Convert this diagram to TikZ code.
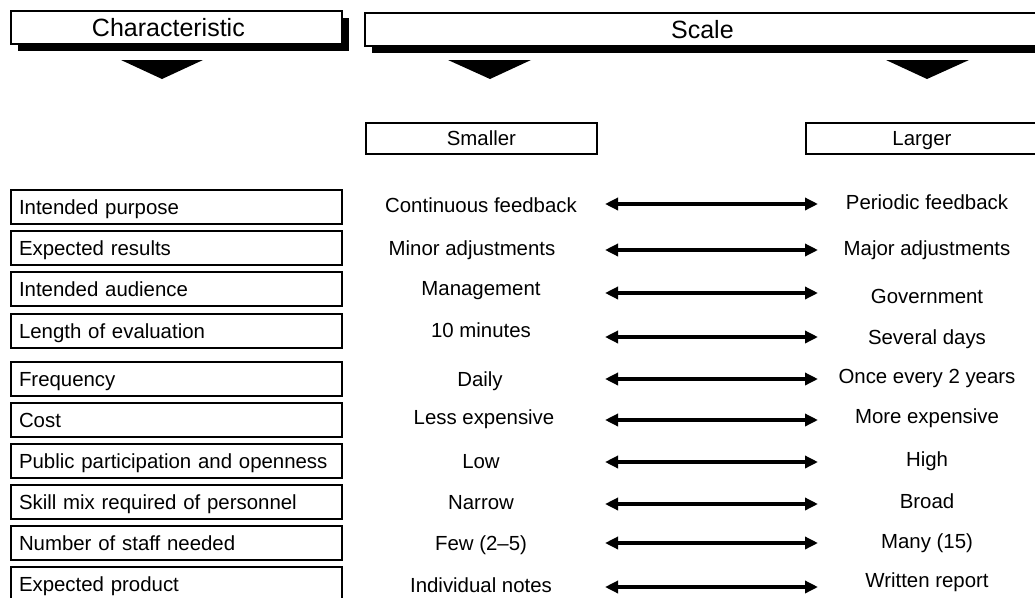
\documentclass[tikz,border=0pt]{standalone}
\usepackage{fontspec}
\setmainfont{Liberation Sans}
\usetikzlibrary{arrows.meta,shadows}
\begin{document}
\begin{tikzpicture}[x=1pt,y=-1pt,
  hdr/.style={draw=black, line width=1.8pt, fill=white, inner sep=0pt,
    minimum height=33pt, anchor=north west,
    font=\fontsize{25}{29}\selectfont, text height=17.9pt, text depth=0pt,
    general shadow={fill=black, shadow xshift=7pt, shadow yshift=-7pt}},
  colbox/.style={draw=black, line width=1.8pt, fill=white, inner sep=0pt,
    minimum height=31pt, anchor=north west,
    font=\fontsize{20.4}{24}\selectfont, text height=14.7pt, text depth=0pt},
  charbox/.style={draw=black, line width=2pt, fill=white, inner ysep=0pt,
    inner xsep=8pt, text width=315pt, align=left, minimum height=34pt,
    anchor=north west,
    font=\fontsize{20.4}{24}\selectfont, text height=14.7pt, text depth=0pt},
  val/.style={inner sep=0pt, font=\fontsize{20.4}{24}\selectfont,
    text height=14.7pt, text depth=0pt},
  biarrow/.style={line width=3.4pt,
    {Triangle[length=13pt,width=12pt]}-{Triangle[length=13pt,width=12pt]}},
  pointer/.style={fill=black}
]
\useasboundingbox (0,0) rectangle (1035,597);
\clip (0,0) rectangle (1035,597);

% column headings
\node[hdr, minimum width=331pt] (char) at (10,10) {\hspace*{-16pt}Characteristic};
\node[hdr, minimum width=690pt] (scale) at (364,12) {\hspace*{-15pt}Scale};

% downward pointers under the headings
\fill[pointer] (121,60) -- (203,60) -- (162,79) -- cycle;
\fill[pointer] (448,60) -- (531,60) -- (490,79) -- cycle;
\fill[pointer] (886,60) -- (969,60) -- (927,79) -- cycle;

% ends of the scale
\node[colbox, minimum width=231pt] (smaller) at (365,122) {Smaller};
\node[colbox, minimum width=250pt] (larger) at (805,122)
  {\hspace*{-18pt}Larger};

% one row per characteristic
\foreach \top/\ay/\name/\sx/\sy/\small/\ly/\large [count=\i] in {
  189/204/{Intended purpose}/481/205/{Continuous feedback}/202/{Periodic feedback},
  230/250/{Expected results}/472/248/{Minor adjustments}/248/{Major adjustments},
  271/293/{Intended audience}/481/288/{Management}/296/{Government},
  313/337/{Length of evaluation}/481/330/{10 minutes}/337/{Several days},
  361/379/{Frequency}/480/379/{Daily}/376/{Once every 2 years},
  402/420/{Cost}/484/417/{Less expensive}/416/{More expensive},
  443/462/{Public participation and openness}/481/461/{Low}/459/{High},
  484/504/{Skill mix required of personnel}/481/502/{Narrow}/501/{Broad},
  525/543/{Number of staff needed}/481/543/{Few (2–5)}/541/{Many (15)},
  566/587/{Expected product}/481/585/{Individual notes}/580/{Written report}}
{
  \node[charbox] (c\i) at (10,\top) {\name};
  \node[val] (s\i) at (\sx,\sy) {\small};
  \node[val] (g\i) at (927,\ly) {\large};
  \coordinate (al\i) at (605,\ay);
  \coordinate (ar\i) at (818,\ay);
  \draw[biarrow] (al\i) -- (ar\i);
}
\end{tikzpicture}
\end{document}
